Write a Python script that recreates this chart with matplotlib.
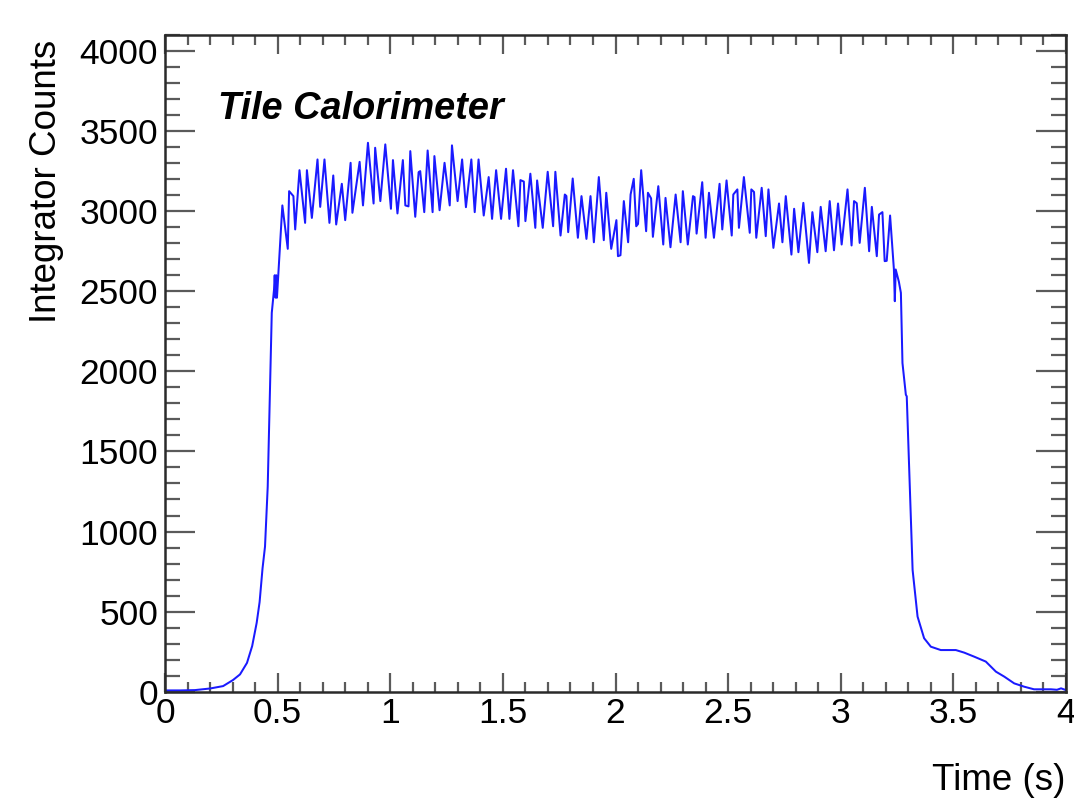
import matplotlib
matplotlib.use("Agg")
import matplotlib.pyplot as plt
from matplotlib.ticker import MultipleLocator

plt.rcParams['font.family'] = ['Liberation Sans', 'DejaVu Sans']

# ---- data ----
time_s = [
    0.000, 0.067, 0.133, 0.200, 0.258, 0.302, 0.333, 0.364, 0.387, 0.407,
    0.420, 0.433, 0.444, 0.456, 0.467, 0.474, 0.484, 0.487, 0.491, 0.494,
    0.497, 0.521, 0.545, 0.551, 0.570, 0.578, 0.597, 0.622, 0.630, 0.652,
    0.677, 0.689, 0.708, 0.730, 0.747, 0.760, 0.785, 0.800, 0.824, 0.832,
    0.864, 0.879, 0.901, 0.926, 0.933, 0.956, 0.978, 1.003, 1.012, 1.032,
    1.056, 1.067, 1.081, 1.089, 1.111, 1.126, 1.133, 1.151, 1.166, 1.188,
    1.196, 1.219, 1.241, 1.264, 1.274, 1.299, 1.319, 1.336, 1.360, 1.375,
    1.392, 1.415, 1.437, 1.452, 1.470, 1.492, 1.514, 1.529, 1.545, 1.569,
    1.578, 1.593, 1.600, 1.622, 1.644, 1.652, 1.677, 1.699, 1.723, 1.733,
    1.756, 1.775, 1.782, 1.790, 1.810, 1.833, 1.849, 1.871, 1.889, 1.904,
    1.926, 1.948, 1.959, 1.981, 2.004, 2.011, 2.022, 2.037, 2.056, 2.067,
    2.081, 2.092, 2.100, 2.114, 2.136, 2.144, 2.158, 2.166, 2.190, 2.212,
    2.222, 2.244, 2.267, 2.289, 2.299, 2.321, 2.344, 2.351, 2.360, 2.385,
    2.400, 2.415, 2.437, 2.462, 2.474, 2.493, 2.516, 2.523, 2.541, 2.548,
    2.570, 2.596, 2.603, 2.615, 2.625, 2.649, 2.667, 2.679, 2.701, 2.726,
    2.741, 2.756, 2.781, 2.793, 2.812, 2.834, 2.859, 2.874, 2.896, 2.911,
    2.933, 2.951, 2.970, 2.988, 3.004, 3.030, 3.048, 3.059, 3.071, 3.084,
    3.107, 3.126, 3.138, 3.160, 3.170, 3.185, 3.195, 3.204, 3.219, 3.236,
    3.240, 3.244, 3.258, 3.267, 3.274, 3.289, 3.293, 3.319, 3.341, 3.370,
    3.400, 3.444, 3.511, 3.548, 3.592, 3.644, 3.689, 3.726, 3.770, 3.815,
    3.858, 3.933, 3.960, 3.978, 4.000,
]
counts = [
    8, 8, 10, 20, 35, 73, 108, 180, 285, 430,
    560, 770, 906, 1280, 1950, 2365, 2510, 2600, 2460, 2600,
    2460, 3036, 2765, 3125, 3094, 2886, 3256, 2927, 3256, 2958,
    3323, 3027, 3323, 2927, 3223, 2917, 3171, 2944, 3302, 2990,
    3308, 3036, 3427, 3048, 3396, 3063, 3417, 3015, 3319, 2986,
    3319, 3036, 3030, 3375, 2965, 3244, 3250, 2994, 3379, 2994,
    3344, 3006, 3302, 3036, 3411, 3063, 3323, 3025, 3323, 2994,
    3323, 2973, 3213, 2952, 3256, 2952, 3265, 2952, 3256, 2906,
    3194, 3185, 2938, 3234, 2896, 3192, 2896, 3246, 2906, 3246,
    2848, 3104, 3095, 2869, 3204, 2834, 3094, 2827, 3094, 2806,
    3213, 2819, 3115, 2765, 2944, 2719, 2725, 3063, 2806, 3104,
    3202, 2906, 2920, 3256, 2875, 3115, 3080, 2840, 3156, 2792,
    3083, 2775, 3104, 2806, 3125, 2792, 3094, 3088, 2860, 3181,
    2834, 3115, 2834, 3171, 2886, 3192, 2848, 3104, 3136, 2896,
    3213, 2865, 3136, 3120, 2834, 3146, 2844, 3136, 2771, 3048,
    2806, 3094, 2729, 3015, 2744, 3052, 2677, 2994, 2744, 3027,
    2750, 3063, 2756, 3048, 2792, 3136, 2786, 3063, 3050, 2802,
    3146, 2750, 3027, 2719, 2979, 2994, 2688, 2690, 2973, 2636,
    2438, 2636, 2560, 2490, 2052, 1854, 1844, 760, 469, 334,
    281, 260, 260, 244, 219, 188, 125, 94, 52, 31,
    15, 15, 12, 21, 10,
]

x_title = "Time (s)"
y_title = "Integrator Counts"
label_text = "Tile Calorimeter"

# ---- figure ----
W, H = 1074, 800
fig = plt.figure(figsize=(W / 100, H / 100), dpi=100)
ax = fig.add_axes([165 / W, 1 - 691.7 / H, (1066 - 165) / W, (691.7 - 35) / H])

ax.plot(time_s, counts, color='#1a1aff', lw=1.45)

ax.set_xlim(0, 4)
ax.set_ylim(0, 4100)

ax.xaxis.set_major_locator(MultipleLocator(0.5))
ax.xaxis.set_minor_locator(MultipleLocator(0.1))
ax.yaxis.set_major_locator(MultipleLocator(500))
ax.yaxis.set_minor_locator(MultipleLocator(100))

ax.tick_params(axis='both', which='both', direction='in', top=True, right=True,
               color='#5a5a5a', width=1.6, labelsize=25.5, labelcolor='black')
ax.tick_params(axis='x', which='major', length=13.5, pad=4)
ax.tick_params(axis='x', which='minor', length=7)
ax.tick_params(axis='y', which='major', length=21.5, pad=5)
ax.tick_params(axis='y', which='minor', length=10.8)

ax.xaxis.set_major_formatter(plt.FuncFormatter(lambda v, p: '%g' % v))
ax.yaxis.set_major_formatter(plt.FuncFormatter(lambda v, p: '%d' % v))

for sp in ax.spines.values():
    sp.set_color('#2a2a2a')
    sp.set_linewidth(1.8)

fig.text(1065 / W, 1 - 790 / H, x_title, ha='right', va='baseline', fontsize=26.5)
fig.text(47 / W, 1 - 40 / H, y_title, ha='center', va='top', rotation=90, fontsize=26.5)
fig.text(218 / W, 1 - 119 / H, label_text, ha='left', va='baseline', fontsize=27.3,
         fontweight='bold', fontstyle='italic')

fig.savefig('out.png', dpi=100)
